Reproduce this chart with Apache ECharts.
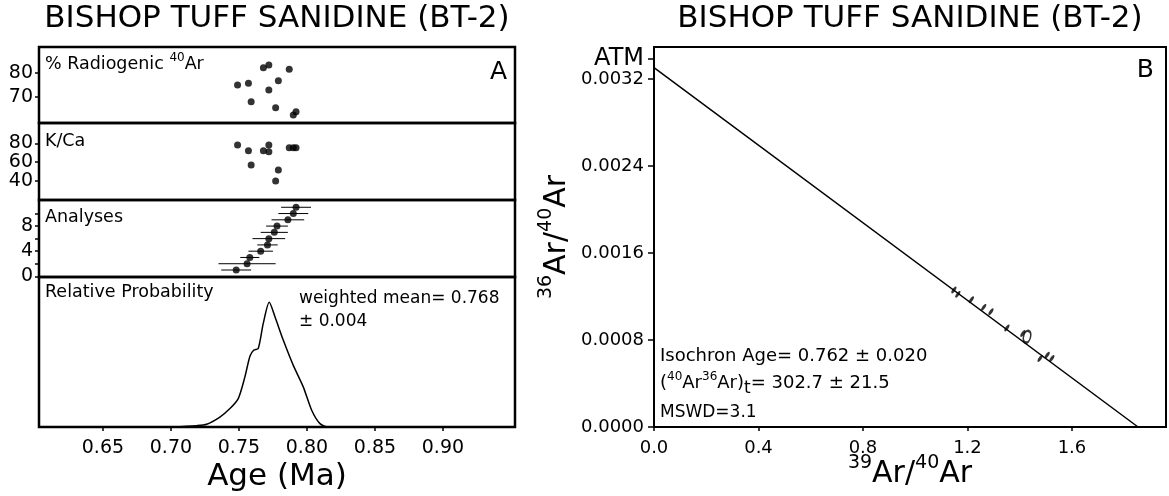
<!DOCTYPE html>
<html>
<head>
<meta charset="utf-8">
<script src="https://cdn.jsdelivr.net/npm/echarts@6.0.0/dist/echarts.min.js"></script>
<style>
  html, body { margin: 0; padding: 0; background: #fff; }
  #chart { width: 1169px; height: 496px; }
</style>
</head>
<body>
<div id="chart"></div>
<script>
// ---- Panel A: single-crystal sanidine analyses (ages in Ma) ----
const ages        = [0.749, 0.757, 0.759, 0.768, 0.772, 0.772, 0.777, 0.779, 0.787, 0.790, 0.792];
const radiogenic  = [75.0, 75.7, 68.0, 82.2, 83.3, 72.9, 65.5, 76.8, 81.5, 62.5, 63.9];
const kca         = [78.2, 72.1, 56.8, 72.1, 78.2, 71.0, 39.6, 51.4, 75.3, 75.3, 75.3];
const analysisNo  = [1, 2, 3, 4, 5, 6, 7, 8, 9, 10, 11];
const analysisAge = [0.748, 0.756, 0.758, 0.766, 0.771, 0.772, 0.776, 0.778, 0.786, 0.790, 0.792];
const ageError    = [0.011, 0.021, 0.007, 0.009, 0.0075, 0.012, 0.010, 0.008, 0.012, 0.011, 0.011];

// relative probability curve
const probAge = [0.700, 0.7189, 0.7263, 0.7360, 0.7434, 0.7495, 0.7544, 0.7581, 0.7610, 0.7642,
                 0.7679, 0.7723, 0.7765, 0.7826, 0.7899, 0.7973, 0.8035, 0.8096, 0.8157, 0.830];
const probVal = [0, 0.011, 0.022, 0.080, 0.148, 0.228, 0.402, 0.568, 0.617, 0.630,
                 0.831, 1.0, 0.884, 0.697, 0.496, 0.322, 0.134, 0.027, 0, 0];

const ageTicks = [0.65, 0.70, 0.75, 0.80, 0.85, 0.90];
const radTicks = [70, 80];
const kcaTicks = [40, 60, 80];
const kcaOuterLabels = [40, 80];
const kcaInnerLabels = [60];
const anaLabelTicks = [0, 4, 8];
const anaTicks = [0, 2, 4, 6, 8, 10];

// ---- Panel B: inverse isochron ----
const isoX = [1.148, 1.163, 1.215, 1.262, 1.290, 1.351, 1.412, 1.478, 1.505, 1.523];
const isoY = [0.00126, 0.00122, 0.00117, 0.00110, 0.00106, 0.00091, 0.00086, 0.00063, 0.00066, 0.00063];
const bigEllipse = [[1.428, 0.00083]];
const atm = 1 / 295.5;              // atmospheric 36Ar/40Ar
const interceptY = 1 / 302.7;       // (40Ar/36Ar)t = 302.7
const interceptX = 1.853;           // 39Ar/40Ar intercept
const isoXTicks = [0, 0.4, 0.8, 1.2, 1.6];
const isoYTicks = [0, 0.0008, 0.0016, 0.0024, 0.0032];

const FONT = 'DejaVu Sans';
const chart = echarts.init(document.getElementById('chart'), null, { renderer: 'canvas' });

const frame = {
  show: true, borderColor: '#000', borderWidth: 2.5, backgroundColor: 'transparent',
  outerBoundsMode: 'none', containLabel: false
};
const grids = [
  Object.assign({ left: 39, top: 47,  width: 476, height: 76 }, frame),
  Object.assign({ left: 39, top: 123, width: 476, height: 77 }, frame),
  Object.assign({ left: 39, top: 200, width: 476, height: 77 }, frame),
  Object.assign({ left: 39, top: 277, width: 476, height: 150 }, frame),
  Object.assign({ left: 654, top: 47, width: 512, height: 380 }, frame, { borderWidth: 2 })
];

const tickStyle = { show: true, inside: false, length: 4, lineStyle: { color: '#000', width: 1.5 } };
const labelFont = {
  color: '#000', fontFamily: FONT, fontSize: 18,
  hideOverlap: false, showMinLabel: true, showMaxLabel: true
};

function ageAxis(i, withLabels) {
  return {
    type: 'value', gridIndex: i, min: 0.603, max: 0.953,
    axisLine: { show: false }, splitLine: { show: false },
    axisTick: withLabels ? Object.assign({ customValues: ageTicks }, tickStyle) : { show: false },
    axisLabel: withLabels
      ? Object.assign({ customValues: ageTicks, margin: 12, formatter: v => v.toFixed(2) }, labelFont, { fontSize: 19 })
      : { show: false }
  };
}
function rowAxis(i, min, max, labelVals, tickVals) {
  return {
    type: 'value', gridIndex: i, min: min, max: max, position: 'left', offset: 0,
    axisLine: { show: false }, splitLine: { show: false },
    axisTick: tickVals || labelVals
      ? Object.assign({ customValues: tickVals || labelVals }, tickStyle)
      : { show: false },
    axisLabel: labelVals
      ? Object.assign({ customValues: labelVals, margin: 6 }, labelFont, { fontSize: 19 })
      : { show: false }
  };
}

const isoYMin = 0, isoYMax = 0.003494;
function isoYAxis(labelVals, tickVals) {
  return {
    type: 'value', gridIndex: 4, min: isoYMin, max: isoYMax, position: 'left', offset: 0,
    axisLine: { show: false }, splitLine: { show: false },
    axisTick: tickVals ? Object.assign({ customValues: tickVals }, tickStyle, { length: 6 }) : { show: false },
    axisLabel: Object.assign({
      customValues: labelVals, margin: 10,
      formatter: v => (Math.abs(v - atm) < 1e-8 ? '{atm|ATM}' : v.toFixed(4)),
      rich: { atm: { fontSize: 24, fontFamily: FONT, color: '#000' } }
    }, labelFont)
  };
}

const option = {
  animation: false,
  backgroundColor: '#fff',
  grid: grids,
  xAxis: [
    ageAxis(0, false), ageAxis(1, false), ageAxis(2, false), ageAxis(3, true),
    {
      type: 'value', gridIndex: 4, min: 0, max: 1.96,
      axisLine: { show: false }, splitLine: { show: false },
      axisTick: Object.assign({ customValues: isoXTicks }, tickStyle),
      axisLabel: Object.assign({ customValues: isoXTicks, margin: 12, formatter: v => v.toFixed(1) }, labelFont)
    }
  ],
  yAxis: [
    rowAxis(0, 59.2, 90.8, radTicks),
    rowAxis(1, 19.4, 101.7, kcaOuterLabels, kcaTicks),
    rowAxis(2, -0.116, 12.16, anaLabelTicks, anaTicks),
    rowAxis(3, 0, 1.203, null),
    isoYAxis(isoYTicks, isoYTicks.concat([atm])),
    // separate label layers keep closely spaced labels from hiding each other
    Object.assign(rowAxis(1, 19.4, 101.7, kcaInnerLabels), { axisTick: { show: false } }),
    isoYAxis([atm], null)
  ],
  series: [
    {
      type: 'scatter', xAxisIndex: 0, yAxisIndex: 0, symbolSize: 7,
      itemStyle: { color: '#000' },
      data: ages.map((a, i) => [a, radiogenic[i]])
    },
    {
      type: 'scatter', xAxisIndex: 1, yAxisIndex: 1, symbolSize: 7,
      itemStyle: { color: '#000' },
      data: ages.map((a, i) => [a, kca[i]])
    },
    {
      type: 'custom', xAxisIndex: 2, yAxisIndex: 2,
      data: analysisAge.map((a, i) => [a, analysisNo[i], ageError[i]]),
      encode: { x: 0, y: 1 },
      renderItem: function (params, api) {
        const a = api.value(0), n = api.value(1), e = api.value(2);
        const p1 = api.coord([a - e, n]);
        const p2 = api.coord([a + e, n]);
        return {
          type: 'line',
          shape: { x1: p1[0], y1: p1[1], x2: p2[0], y2: p2[1] },
          style: { stroke: '#000', lineWidth: 1 }
        };
      }
    },
    {
      type: 'scatter', xAxisIndex: 2, yAxisIndex: 2, symbolSize: 7,
      itemStyle: { color: '#000' },
      data: analysisAge.map((a, i) => [a, analysisNo[i]])
    },
    {
      type: 'line', xAxisIndex: 3, yAxisIndex: 3, smooth: 0.25, showSymbol: false,
      lineStyle: { color: '#000', width: 1.5 },
      data: probAge.map((a, i) => [a, probVal[i]])
    },
    {
      type: 'line', xAxisIndex: 4, yAxisIndex: 4, showSymbol: false,
      lineStyle: { color: '#000', width: 1.5 },
      data: [[0, interceptY], [interceptX, 0]]
    },
    {
      type: 'scatter', xAxisIndex: 4, yAxisIndex: 4,
      symbol: 'path://M0,-10C5.5,-10 5.5,10 0,10C-5.5,10 -5.5,-10 0,-10Z',
      symbolSize: [3, 8], symbolRotate: -35,
      itemStyle: { color: '#000' },
      data: isoX.map((x, i) => [x, isoY[i]])
    },
    {
      type: 'scatter', xAxisIndex: 4, yAxisIndex: 4,
      symbol: 'path://M0,-10C5.5,-10 5.5,10 0,10C-5.5,10 -5.5,-10 0,-10Z',
      symbolSize: [7, 12], symbolRotate: -15,
      itemStyle: { color: '#fff', borderColor: '#000', borderWidth: 2 },
      data: bigEllipse
    }
  ],
  graphic: [
    { type: 'text', x: 277, y: 19, style: { text: 'BISHOP TUFF SANIDINE (BT-2)', fontFamily: FONT, fontSize: 31, fill: '#000', align: 'center', verticalAlign: 'middle' } },
    { type: 'text', x: 910, y: 19, style: { text: 'BISHOP TUFF SANIDINE (BT-2)', fontFamily: FONT, fontSize: 31, fill: '#000', align: 'center', verticalAlign: 'middle' } },
    { type: 'text', x: 45, y: 64, style: {
        text: '{t|% Radiogenic }{s|40}{t|Ar}', align: 'left', verticalAlign: 'middle',
        rich: {
          t: { fontFamily: FONT, fontSize: 17.5, fill: '#000', lineHeight: 24, verticalAlign: 'middle' },
          s: { fontFamily: FONT, fontSize: 12, fill: '#000', verticalAlign: 'top' }
        } } },
    { type: 'text', x: 45, y: 141, style: { text: 'K/Ca', fontFamily: FONT, fontSize: 17.5, fill: '#000', verticalAlign: 'middle' } },
    { type: 'text', x: 45, y: 217, style: { text: 'Analyses', fontFamily: FONT, fontSize: 17.5, fill: '#000', verticalAlign: 'middle' } },
    { type: 'text', x: 45, y: 292, style: { text: 'Relative Probability', fontFamily: FONT, fontSize: 17.5, fill: '#000', verticalAlign: 'middle' } },
    { type: 'text', x: 299, y: 299, style: { text: 'weighted mean= 0.768', fontFamily: FONT, fontSize: 17, fill: '#000', verticalAlign: 'middle' } },
    { type: 'text', x: 299, y: 322, style: { text: '± 0.004', fontFamily: FONT, fontSize: 17, fill: '#000', verticalAlign: 'middle' } },
    { type: 'text', x: 507, y: 72, style: { text: 'A', fontFamily: FONT, fontSize: 25, fill: '#000', align: 'right', verticalAlign: 'middle' } },
    { type: 'text', x: 1154, y: 70, style: { text: 'B', fontFamily: FONT, fontSize: 25, fill: '#000', align: 'right', verticalAlign: 'middle' } },
    { type: 'text', x: 277, y: 477, style: { text: 'Age (Ma)', fontFamily: FONT, fontSize: 31, fill: '#000', align: 'center', verticalAlign: 'middle' } },
    { type: 'text', x: 910, y: 474, style: {
        text: '{s|39}{t|Ar/}{s|40}{t|Ar}', align: 'center', verticalAlign: 'middle',
        rich: {
          t: { fontFamily: FONT, fontSize: 30, fill: '#000', lineHeight: 40, verticalAlign: 'middle' },
          s: { fontFamily: FONT, fontSize: 19, fill: '#000', verticalAlign: 'top' }
        } } },
    { type: 'text', x: 557, y: 237, rotation: Math.PI / 2, style: {
        text: '{s|36}{t|Ar/}{s|40}{t|Ar}', align: 'center', verticalAlign: 'middle',
        rich: {
          t: { fontFamily: FONT, fontSize: 30, fill: '#000', lineHeight: 40, verticalAlign: 'middle' },
          s: { fontFamily: FONT, fontSize: 19, fill: '#000', verticalAlign: 'top' }
        } } },
    { type: 'text', x: 660, y: 356, style: { text: 'Isochron Age= 0.762 ± 0.020', fontFamily: FONT, fontSize: 18, fill: '#000', verticalAlign: 'middle' } },
    { type: 'text', x: 660, y: 383, style: {
        text: '{t|(}{s|40}{t|Ar}{s|36}{t|Ar)}{b|t}{t|= 302.7 ± 21.5}', align: 'left', verticalAlign: 'middle',
        rich: {
          t: { fontFamily: FONT, fontSize: 18, fill: '#000', lineHeight: 28, verticalAlign: 'middle' },
          s: { fontFamily: FONT, fontSize: 12, fill: '#000', verticalAlign: 'top', padding: [2, 0, 0, 0] },
          b: { fontFamily: FONT, fontSize: 17, fill: '#000', verticalAlign: 'bottom' }
        } } },
    { type: 'text', x: 660, y: 413, style: { text: 'MSWD=3.1', fontFamily: FONT, fontSize: 17, fill: '#000', verticalAlign: 'middle' } }
  ]
};

chart.setOption(option);
</script>
</body>
</html>
